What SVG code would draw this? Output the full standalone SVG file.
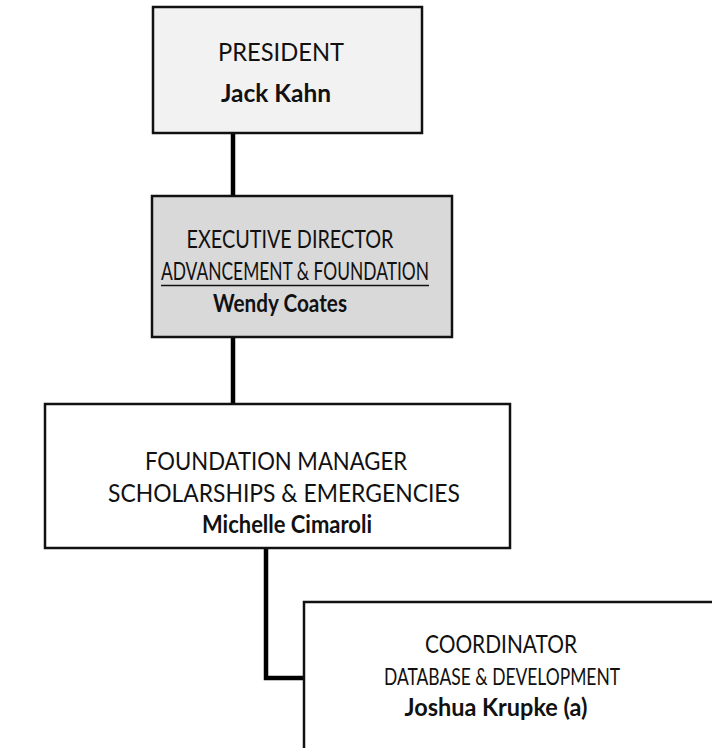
<svg xmlns="http://www.w3.org/2000/svg" width="712" height="748" viewBox="0 0 712 748">
<style>
.box{stroke:#111;stroke-width:2.5}
.t{font-family:Lato,"Open Sans","Liberation Sans",sans-serif;font-size:25px;fill:#111;text-anchor:middle}
.s{font-size:23.5px}
.b{font-weight:bold}
.conn{stroke:#000;stroke-width:4.5;fill:none}
</style>
<rect width="712" height="748" fill="#fff"/>
<g id="connectors">
<line class="conn" x1="233" y1="133" x2="233" y2="196"/>
<line class="conn" x1="233" y1="337" x2="233" y2="404"/>
<polyline class="conn" points="266,548 266,678 304,678"/>
</g>
<g id="president">
<rect class="box" x="153" y="7" width="269" height="126" fill="#f2f2f2"/>
<text class="t" x="281" y="61" textLength="126" lengthAdjust="spacingAndGlyphs">PRESIDENT</text>
<text class="t b" x="276" y="102" textLength="110" lengthAdjust="spacingAndGlyphs">Jack Kahn</text>
</g>
<g id="executive-director">
<rect class="box" x="152" y="196" width="300" height="141" fill="#d9d9d9"/>
<text class="t" x="290" y="248" textLength="207" lengthAdjust="spacingAndGlyphs">EXECUTIVE DIRECTOR</text>
<text class="t" x="295" y="280" textLength="268" lengthAdjust="spacingAndGlyphs">ADVANCEMENT &amp; FOUNDATION</text>
<line x1="161" y1="285.5" x2="429" y2="285.5" stroke="#111" stroke-width="1.5"/>
<text class="t b" x="280" y="312" textLength="134" lengthAdjust="spacingAndGlyphs">Wendy Coates</text>
</g>
<g id="foundation-manager">
<rect class="box" x="45" y="404" width="465" height="144" fill="#fff"/>
<text class="t" x="276" y="470" textLength="262" lengthAdjust="spacingAndGlyphs">FOUNDATION MANAGER</text>
<text class="t" x="284" y="502" textLength="352" lengthAdjust="spacingAndGlyphs">SCHOLARSHIPS &amp; EMERGENCIES</text>
<text class="t b" x="287" y="533" textLength="170" lengthAdjust="spacingAndGlyphs">Michelle Cimaroli</text>
</g>
<g id="coordinator">
<rect class="box" x="304" y="602" width="420" height="160" fill="#fff"/>
<text class="t" x="501" y="653" textLength="152" lengthAdjust="spacingAndGlyphs">COORDINATOR</text>
<text class="t s" x="502" y="685" textLength="236" lengthAdjust="spacingAndGlyphs">DATABASE &amp; DEVELOPMENT</text>
<text class="t b" x="496" y="716" textLength="183" lengthAdjust="spacingAndGlyphs">Joshua Krupke (a)</text>
</g>
</svg>
